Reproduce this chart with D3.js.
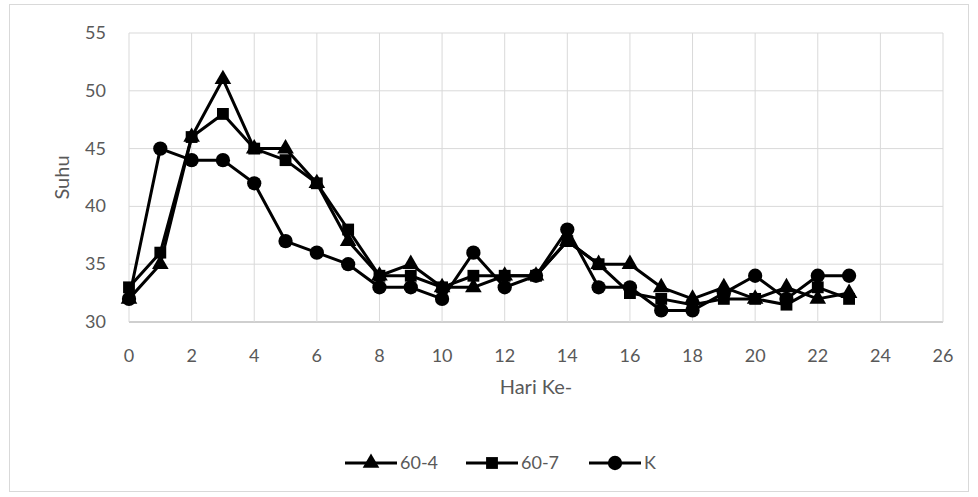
<!DOCTYPE html>
<html>
<head>
<meta charset="utf-8">
<script src="https://cdn.jsdelivr.net/npm/d3@7"></script>
<style>
  body { margin: 0; background: #fff; }
  text { font-family: Lato, "Open Sans", sans-serif; fill: #595959; }
</style>
</head>
<body>
<svg id="chart" width="978" height="497"></svg>
<script>
// data
var days = d3.range(0, 24);
var s604 = [32, 35, 46, 51, 45, 45, 42, 37, 34, 35, 33, 33, 34, 34, 37, 35, 35, 33, 32, 33, 32, 33, 32, 32.5];
var s607 = [33, 36, 46, 48, 45, 44, 42, 38, 34, 34, 33, 34, 34, 34, 37, 35, 32.5, 32, 31.5, 32, 32, 31.5, 33, 32];
var sK   = [32, 45, 44, 44, 42, 37, 36, 35, 33, 33, 32, 36, 33, 34, 38, 33, 33, 31, 31, 32.5, 34, 32, 34, 34];
var seriesNames = ["60-4", "60-7", "K"];
var xTicks = d3.range(0, 27, 2);
var yTicks = [30, 35, 40, 45, 50, 55];

var series = [
    {name: seriesNames[0], values: s604, sym: d3.symbolTriangle, size: 120},
    {name: seriesNames[1], values: s607, sym: d3.symbolSquare, size: 140},
    {name: seriesNames[2], values: sK, sym: d3.symbolCircle, size: 160}
];

var svg = d3.select("#chart");

// outer chart border
svg.append("rect")
    .attr("x", 9.5).attr("y", 4.5)
    .attr("width", 959).attr("height", 487)
    .attr("fill", "none")
    .attr("stroke", "#d9d9d9");

// plot area (top is taken by window.top, so use a box object)
var box = {left: 129, right: 943, top: 33, bottom: 322};
var x = d3.scaleLinear().domain([0, 26]).range([box.left, box.right]);
var y = d3.scaleLinear().domain([30, 55]).range([box.bottom, box.top]);

// grid
svg.append("g").selectAll("line")
    .data(yTicks)
    .enter().append("line")
    .attr("x1", box.left).attr("x2", box.right)
    .attr("y1", function(d) { return y(d); })
    .attr("y2", function(d) { return y(d); })
    .attr("stroke", function(d) { return d === 30 ? "#bfbfbf" : "#d9d9d9"; })
    .attr("stroke-width", function(d) { return d === 30 ? 1.3 : 1; });

svg.append("g").selectAll("line")
    .data(xTicks)
    .enter().append("line")
    .attr("y1", box.top).attr("y2", box.bottom)
    .attr("x1", function(d) { return x(d); })
    .attr("x2", function(d) { return x(d); })
    .attr("stroke", "#d9d9d9");

// tick labels
svg.append("g").selectAll("text")
    .data(yTicks)
    .enter().append("text")
    .attr("x", 106)
    .attr("y", function(d) { return y(d) + 6; })
    .attr("text-anchor", "end")
    .style("font-size", "18px")
    .text(function(d) { return d; });

svg.append("g").selectAll("text")
    .data(xTicks)
    .enter().append("text")
    .attr("x", function(d) { return x(d); })
    .attr("y", 362)
    .attr("text-anchor", "middle")
    .style("font-size", "18px")
    .text(function(d) { return d; });

// axis titles
svg.append("text")
    .attr("transform", "translate(69," + ((box.top + box.bottom) / 2) + ") rotate(-90)")
    .attr("text-anchor", "middle")
    .style("font-size", "20px")
    .text("Suhu");

svg.append("text")
    .attr("x", (box.left + box.right) / 2)
    .attr("y", 394)
    .attr("text-anchor", "middle")
    .style("font-size", "20px")
    .text("Hari Ke-");

// lines + markers
var line = d3.line()
    .x(function(d, i) { return x(days[i]); })
    .y(function(d) { return y(d); });

series.forEach(function(s) {
    var g = svg.append("g");
    g.append("path")
        .datum(s.values)
        .attr("d", line)
        .attr("fill", "none")
        .attr("stroke", "#000")
        .attr("stroke-width", 3)
        .attr("stroke-linejoin", "round");
    g.selectAll("path.m")
        .data(s.values)
        .enter().append("path")
        .attr("class", "m")
        .attr("d", d3.symbol().type(s.sym).size(s.size))
        .attr("transform", function(d, i) { return "translate(" + x(days[i]) + "," + y(d) + ")"; })
        .attr("fill", "#000");
});

// legend
var legX = [345, 466, 589];
series.forEach(function(s, i) {
    var g = svg.append("g").attr("transform", "translate(" + legX[i] + ",463)");
    g.append("line")
        .attr("x1", 0).attr("x2", 52)
        .attr("stroke", "#000").attr("stroke-width", 3);
    g.append("path")
        .attr("d", d3.symbol().type(s.sym).size(s.size))
        .attr("transform", "translate(26,0)")
        .attr("fill", "#000");
    g.append("text")
        .attr("x", 55)
        .attr("y", 6)
        .style("font-size", "18px")
        .text(s.name);
});
</script>
</body>
</html>
